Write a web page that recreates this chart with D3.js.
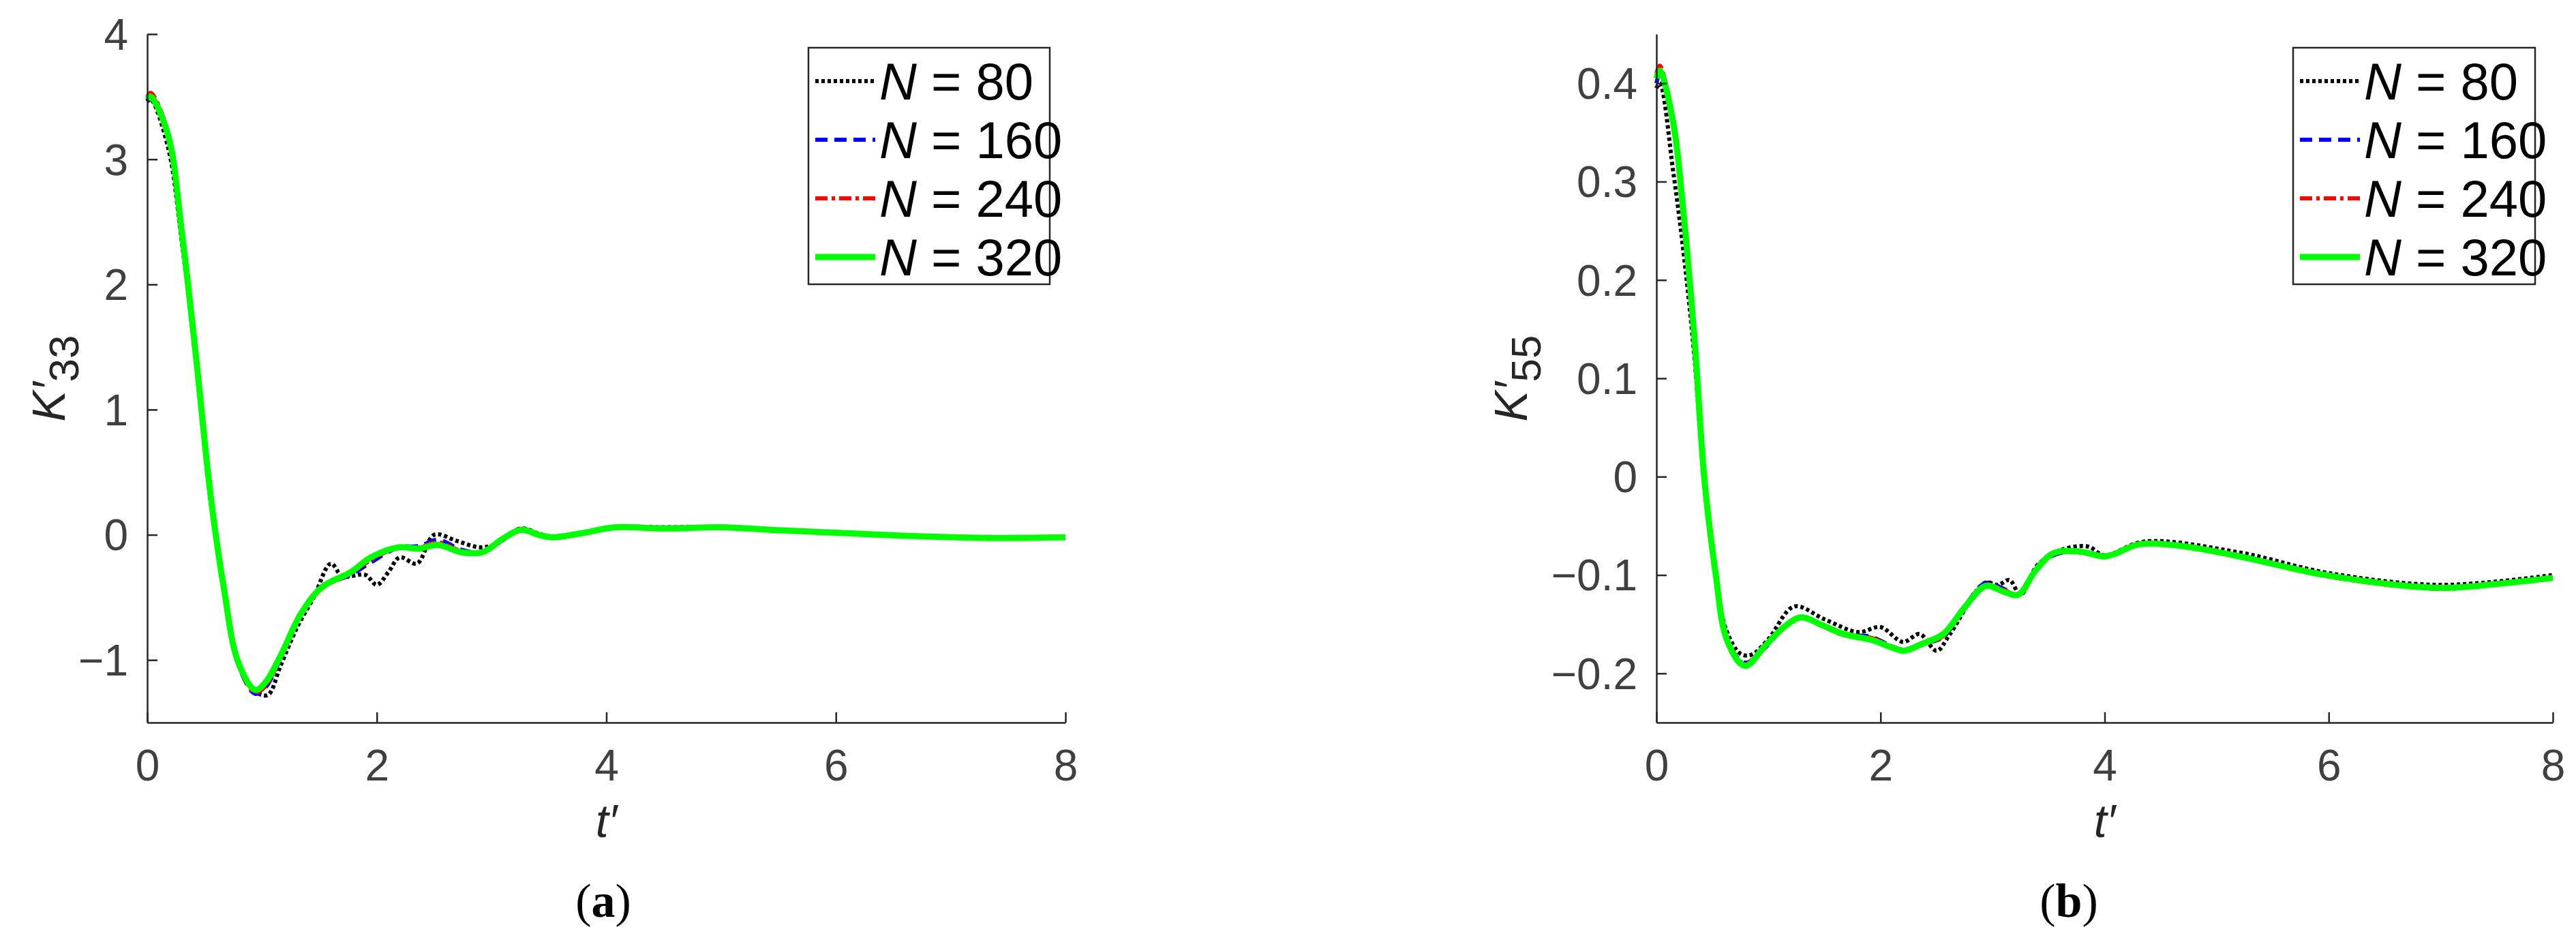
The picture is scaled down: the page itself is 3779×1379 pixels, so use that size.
<!DOCTYPE html>
<html><head><meta charset="utf-8">
<script src="https://cdn.jsdelivr.net/npm/d3@7"></script>
<style>body{margin:0;background:#fff}svg{display:block}</style>
</head><body>
<svg id="c" width="3779" height="1379"></svg>
<script>
// ---------- data ----------
const seriesNames = ["N = 80", "N = 160", "N = 240", "N = 320"];
const xTicks = [0, 2, 4, 6, 8];
const yTicksA = [-1, 0, 1, 2, 3, 4];
const yTicksB = [-0.2, -0.1, 0, 0.1, 0.2, 0.3, 0.4];

// panel (a) K'33
const tA = [0,0.03,0.18,0.3,0.43,0.55,0.67,0.79,0.94,1.03,1.16,1.34,1.52,1.77,1.95,2.19,2.37,2.53,2.74,2.92,3.1,3.26,3.41,3.53,3.77,4.08,4.5,5.0,5.42,6.03,6.82,7.37,8];
const a320 = [3.48,3.5,3.2,2.43,1.38,0.33,-0.44,-1.01,-1.24,-1.18,-0.97,-0.63,-0.42,-0.3,-0.18,-0.1,-0.11,-0.08,-0.14,-0.14,-0.03,0.04,0,-0.02,0.01,0.06,0.05,0.06,0.04,0.015,-0.015,-0.025,-0.02];
const a240 = [3.5,3.53,3.22,2.44,1.39,0.34,-0.45,-1.03,-1.26,-1.21,-0.98,-0.62,-0.43,-0.31,-0.2,-0.1,-0.1,-0.06,-0.13,-0.14,-0.04,0.04,0,-0.02,0.01,0.06,0.05,0.06,0.04,0.015,-0.015,-0.025,-0.02];
const a160 = [3.47,3.5,3.21,2.44,1.39,0.34,-0.45,-1.03,-1.27,-1.22,-0.99,-0.62,-0.42,-0.32,-0.22,-0.1,-0.09,-0.04,-0.12,-0.14,-0.04,0.04,0,-0.02,0.01,0.06,0.05,0.06,0.04,0.015,-0.015,-0.025,-0.02];
const t80a = [0,0.03,0.18,0.3,0.43,0.55,0.67,0.79,0.94,1.05,1.16,1.3,1.45,1.6,1.7,1.9,2.0,2.1,2.2,2.35,2.5,2.7,2.9,3.05,3.25,3.41,3.53,3.77,4.08,4.5,5.0,5.42,6.03,6.82,7.37,8];
const a80 = [3.46,3.48,3.1,2.35,1.32,0.3,-0.42,-1.0,-1.25,-1.28,-1.05,-0.75,-0.5,-0.23,-0.33,-0.32,-0.4,-0.3,-0.18,-0.23,0.0,-0.05,-0.1,-0.07,0.05,0.01,-0.02,0.01,0.06,0.06,0.06,0.04,0.015,-0.015,-0.025,-0.02];

// panel (b) K'55
const tB = [0,0.03,0.15,0.24,0.34,0.43,0.53,0.62,0.75,0.81,0.97,1.16,1.29,1.48,1.67,1.92,2.11,2.21,2.37,2.56,2.75,2.94,3.1,3.23,3.38,3.54,3.77,3.99,4.08,4.3,4.65,5.16,5.92,6.69,7.07,7.51,8];
const b320 = [0.405,0.413,0.36,0.27,0.14,-0.005,-0.10,-0.163,-0.19,-0.192,-0.172,-0.151,-0.143,-0.151,-0.16,-0.166,-0.174,-0.177,-0.17,-0.16,-0.133,-0.111,-0.117,-0.12,-0.096,-0.078,-0.076,-0.081,-0.079,-0.069,-0.07,-0.08,-0.099,-0.111,-0.113,-0.109,-0.103];
const b240 = [0.41,0.418,0.36,0.27,0.14,-0.005,-0.10,-0.163,-0.188,-0.19,-0.172,-0.151,-0.143,-0.152,-0.161,-0.164,-0.173,-0.177,-0.171,-0.162,-0.133,-0.11,-0.115,-0.12,-0.096,-0.079,-0.077,-0.081,-0.079,-0.069,-0.07,-0.08,-0.1,-0.112,-0.114,-0.109,-0.103];
const b160 = [0.4,0.41,0.36,0.27,0.14,-0.005,-0.10,-0.163,-0.187,-0.189,-0.174,-0.151,-0.143,-0.151,-0.16,-0.163,-0.173,-0.176,-0.17,-0.163,-0.132,-0.108,-0.114,-0.12,-0.096,-0.08,-0.076,-0.08,-0.079,-0.069,-0.07,-0.08,-0.099,-0.111,-0.113,-0.109,-0.103];
const t80b = [0,0.03,0.15,0.25,0.34,0.43,0.53,0.62,0.75,0.85,1.0,1.23,1.5,1.8,2.0,2.2,2.35,2.5,2.62,2.93,3.05,3.15,3.25,3.4,3.6,3.85,4.0,4.35,5.2,6.0,7.0,8];
const b80 = [0.395,0.4,0.31,0.22,0.12,-0.01,-0.1,-0.155,-0.18,-0.181,-0.165,-0.132,-0.145,-0.158,-0.153,-0.168,-0.16,-0.177,-0.16,-0.108,-0.11,-0.105,-0.12,-0.09,-0.075,-0.071,-0.08,-0.066,-0.077,-0.098,-0.11,-0.1];

const styles = [
  {color:"#000000", width:6, dash:"5,4"},
  {color:"#0000ff", width:6, dash:"18,10"},
  {color:"#ff0000", width:6, dash:"18,6,5,6"},
  {color:"#00ff00", width:9, dash:null}
];

const svg = d3.select("#c");
const FONT = "'Liberation Sans', Arial, sans-serif";

function panel(cfg){
  const g = svg.append("g");
  const x = d3.scaleLinear().domain([0,8]).range([cfg.x0, cfg.x1]);
  const y = d3.scaleLinear().domain(cfg.ydom).range([cfg.y1, cfg.y0]);
  const line = d3.line().x(d=>x(d[0])).y(d=>y(d[1])).curve(d3.curveCatmullRom.alpha(0.5));
  cfg.series.forEach((s,i)=>{
    const pts = s.t.map((t,k)=>[t, s.v[k]]);
    g.append("path").attr("d", line(pts)).attr("fill","none")
      .attr("stroke", styles[i].color).attr("stroke-width", styles[i].width)
      .attr("stroke-dasharray", styles[i].dash).attr("stroke-linejoin","round");
  });
  const xa = g.append("g").attr("transform",`translate(0,${cfg.y1})`)
    .call(d3.axisBottom(x).tickValues(xTicks).tickSizeInner(-15).tickSizeOuter(0).tickPadding(40).tickFormat(d3.format("d")));
  const ya = g.append("g").attr("transform",`translate(${cfg.x0},0)`)
    .call(d3.axisLeft(y).tickValues(cfg.yticks).tickSizeInner(-15).tickSizeOuter(0).tickPadding(28).tickFormat(cfg.fmt));
  [xa,ya].forEach(a=>{
    a.select(".domain").attr("stroke","#262626").attr("stroke-width",2.5);
    a.selectAll(".tick line").attr("stroke","#262626").attr("stroke-width",2.5);
    a.selectAll(".tick text").attr("fill","#404040").style("font-family",FONT).style("font-size","64px");
  });
  ya.selectAll(".tick text").attr("dy","0.35em");
  const yl = g.append("text").attr("transform",`translate(${cfg.ylabX},${(cfg.y0+cfg.y1)/2}) rotate(-90)`)
    .attr("text-anchor","middle").attr("fill","#262626").style("font-family",FONT).style("font-size","68px");
  yl.append("tspan").style("font-style","italic").text("K\u2032");
  yl.append("tspan").attr("dy",20).style("font-size","62px").text(cfg.sub);
  g.append("text").attr("x",(cfg.x0+cfg.x1)/2).attr("y",1228).attr("text-anchor","middle")
    .attr("fill","#262626").style("font-family",FONT).style("font-size","68px").style("font-style","italic").text("t\u2032");
  const cap = g.append("text").attr("x",cfg.capX).attr("y",1345).attr("text-anchor","middle")
    .attr("fill","#000").style("font-family","'Liberation Serif', serif").style("font-size","70px");
  cap.append("tspan").text("(");
  cap.append("tspan").style("font-weight","bold").text(cfg.cap);
  cap.append("tspan").text(")");
  const L = cfg.leg;
  g.append("rect").attr("x",L.x).attr("y",70).attr("width",L.w).attr("height",347)
    .attr("fill","#fff").attr("stroke","#262626").attr("stroke-width",2.5);
  seriesNames.forEach((n,i)=>{
    const yy = 119 + i*86;
    g.append("line").attr("x1",L.x+10).attr("x2",L.x+98).attr("y1",yy).attr("y2",yy)
      .attr("stroke",styles[i].color).attr("stroke-width",styles[i].width).attr("stroke-dasharray",styles[i].dash);
    const tx = g.append("text").attr("x",L.x+104).attr("y",yy).attr("dy","0.36em")
      .attr("fill","#000").style("font-family",FONT).style("font-size","76px");
    tx.append("tspan").style("font-style","italic").text("N");
    tx.append("tspan").text(n.slice(1));
  });
}

panel({x0:216,x1:1563,y0:50,y1:1060,ydom:[-1.5,4],yticks:yTicksA,fmt:d3.format("d"),
  ylabX:95,sub:"33",capX:885,cap:"a",leg:{x:1186,w:354},
  series:[{t:t80a,v:a80},{t:tA,v:a160},{t:tA,v:a240},{t:tA,v:a320}]});
panel({x0:2430,x1:3745,y0:50,y1:1060,ydom:[-0.25,0.45],yticks:yTicksB,fmt:d=>d===0?"0":d3.format(".1f")(d),
  ylabX:2240,sub:"55",capX:3035,cap:"b",leg:{x:3364,w:355},
  series:[{t:t80b,v:b80},{t:tB,v:b160},{t:tB,v:b240},{t:tB,v:b320}]});
</script>
</body></html>
